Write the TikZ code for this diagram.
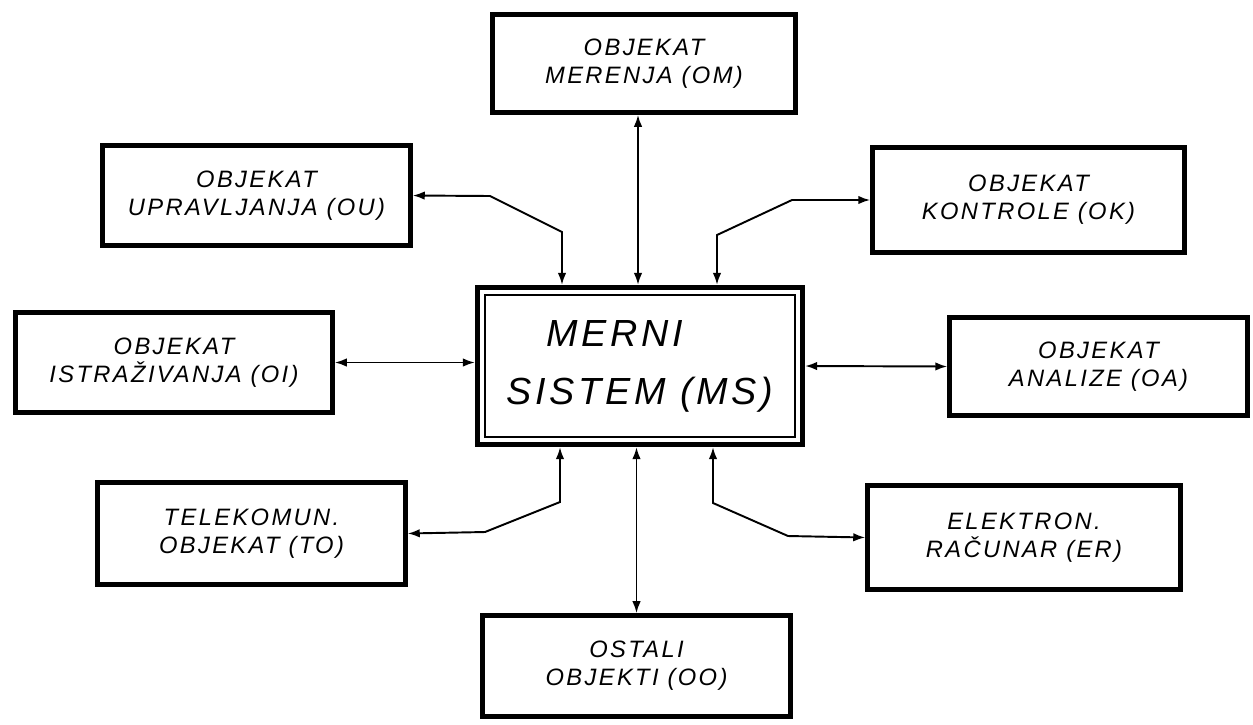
\documentclass[tikz,border=0pt]{standalone}
\usepackage{fontspec}
\newfontfamily\stencil[LetterSpace=10]{Liberation Sans}
\usetikzlibrary{arrows.meta}

\begin{document}
\begin{tikzpicture}[x=0.02cm, y=-0.02cm, >={Latex[length=2.4mm,width=1.7mm]},
    every node/.style={font=\stencil\itshape\fontsize{13.5pt}{16pt}\selectfont},
    objbox/.style={draw, line width=2.6pt, align=center, minimum width=6.2cm, minimum height=2cm},
    link/.style={<->, line width=1.1pt}]
  \useasboundingbox (0,0) rectangle (1253,724);

  % central system
  \node[draw, line width=3pt, minimum width=6.5cm, minimum height=3.14cm, align=left,
        font=\stencil\itshape\fontsize{21.5pt}{33pt}\selectfont] (merni) at (640,366)
        {\hspace*{0.8cm}MERNI\\SISTEM (MS)};
  \draw[line width=1pt] ([shift={(10,10)}]merni.north west) rectangle ([shift={(-10,-10)}]merni.south east);

  % surrounding objects
  \node[objbox, minimum width=6.06cm, minimum height=1.96cm] (merenja) at (644,63.5) {OBJEKAT\\MERENJA (OM)};
  \node[objbox, minimum width=6.16cm] (upravljanja) at (256.5,195.5) {OBJEKAT\\UPRAVLJANJA (OU)};
  \node[objbox, minimum width=6.24cm, minimum height=2.1cm] (kontrole) at (1028.5,200) {OBJEKAT\\KONTROLE (OK)};
  \node[objbox, minimum width=6.34cm] (istrazivanja) at (174,362.5) {OBJEKAT\\ISTRAŽIVANJA (OI)};
  \node[objbox, minimum width=5.96cm, minimum height=1.96cm] (analize) at (1098.5,366.5) {OBJEKAT\\ANALIZE (OA)};
  \node[objbox, minimum width=6.16cm, minimum height=2.04cm] (telekom) at (251.5,533.5) {TELEKOMUN.\\OBJEKAT (TO)};
  \node[objbox, minimum width=6.26cm, minimum height=2.08cm] (racunar) at (1024,537.5) {ELEKTRON.\\RAČUNAR (ER)};
  \node[objbox, minimum width=6.16cm, minimum height=2.02cm] (ostali) at (636.5,666) {OSTALI\\OBJEKTI (OO)};

  % bend points
  \coordinate (ouA) at (490,196);
  \coordinate (ouB) at (562,232);
  \coordinate (okA) at (792,200);
  \coordinate (okB) at (717,235);
  \coordinate (toA) at (485,532);
  \coordinate (toB) at (560,502);
  \coordinate (erA) at (788,536);
  \coordinate (erB) at (713,503);

  % connections
  \draw[link] ([xshift=-0.12cm]merenja.south) -- ([xshift=-0.12cm]merenja.south |- merni.north);
  \draw[link] (upravljanja.east) -- (ouA) -- (ouB) -- (ouB |- merni.north);
  \draw[link] (merni.north -| okB) -- (okB) -- (okA) -- (kontrole.west);
  \draw[link] (istrazivanja.east) -- (istrazivanja.east -| merni.west);
  \draw[link] (merni.east) -- (analize.west);
  \draw[link] (telekom.east) -- (toA) -- (toB) -- (toB |- merni.south);
  \draw[link] (merni.south -| erB) -- (erB) -- (erA) -- (racunar.west);
  \draw[link] (merni.south -| ostali.north) -- (ostali.north);
\end{tikzpicture}
\end{document}
